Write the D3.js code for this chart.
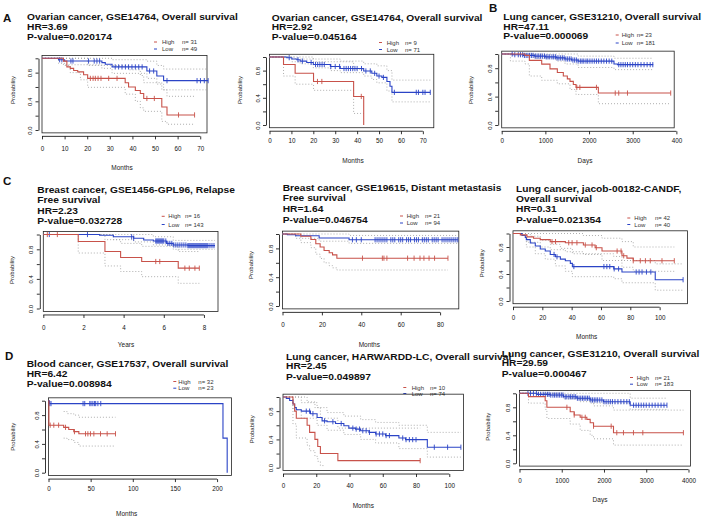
<!DOCTYPE html>
<html>
<head>
<meta charset="utf-8">
<script src="https://cdn.jsdelivr.net/npm/d3@7"></script>
<style>
  body { margin: 0; background: #fff; }
  svg { display: block; }
</style>
</head>
<body>
<svg id="fig" width="714" height="518"></svg>
<script>
const RED = "#c8524a", BLUE = "#2b44c6", CI = "#9a9a9a"
const FONT = "'Liberation Sans', Arial, sans-serif"

// ---- A1: Ovarian cancer GSE14764 ----
const a1Title = ["Ovarian cancer, GSE14764, Overall survival"]
const a1High = [[0,1],[9.5,0.96],[11,0.88],[12.5,0.86],[14,0.83],[15.8,0.81],[18.4,0.77],[20.2,0.72],[36.8,0.66],[38.3,0.6],[41.3,0.55],[43.5,0.51],[45,0.44],[53,0.32],[55.3,0.21],[67.5,0.21]]
const a1HighCens = [21.4,22.6,23.6,24.8,26.1,29.5,33.2,46.4,49.7,60.4,67.5]
const a1Low = [[0,1],[7.3,0.98],[10,0.962],[26.5,0.94],[28,0.916],[31,0.88],[46.4,0.823],[50.8,0.753],[53.8,0.688],[73.5,0.688]]
const a1LowCens = [7.8,8.8,12.8,13.7,20.6,23.1,24.3,25.5,32.4,33.9,35.4,36.9,38.3,39.8,41.3,42.8,44.3,47.6,49.4,55.3,68.6,70.1,71.8,73.5]
const a1HighLo = [[0,1],[9.5,0.9],[12.5,0.8],[17,0.7],[20.2,0.595],[36.8,0.5],[41.3,0.4],[43.5,0.31],[45,0.26],[53,0.12],[55.3,0.08],[67.5,0.08]]
const a1HighHi = [[0,1],[20.2,0.9],[38.3,0.84],[43.5,0.76],[45,0.66],[53,0.56],[55.3,0.47],[67.5,0.47]]
const a1LowLo = [[0,1],[7.3,0.93],[10,0.91],[26.5,0.86],[31,0.79],[46.4,0.72],[50.8,0.64],[53.8,0.56],[73.5,0.56]]
const a1LowHi = [[0,1],[31,0.98],[46.4,0.96],[50.8,0.9],[53.8,0.85],[73.5,0.85]]

// ---- A2: Ovarian cancer GSE14764 ----
const a2Title = ["Ovarian cancer, GSE14764, Overall survival"]
const a2High = [[0,1],[6.4,0.89],[11.7,0.76],[20.1,0.64],[38.4,0.42],[43,0]]
const a2HighCens = [21.9,23.9,41.9]
const a2Low = [[0,1],[7.9,0.99],[10.2,0.97],[12.5,0.96],[14,0.94],[17,0.92],[20,0.89],[27.8,0.86],[32.3,0.83],[43,0.795],[46.7,0.76],[49,0.72],[51.3,0.7],[53.6,0.64],[55,0.57],[55.9,0.48],[73.4,0.48]]
const a2LowCens = [9,13,15,19,21,22,23,24,25,28,30,32,34,35,36,37,38,39,40,42,44,46,48,50,52,57,67,68,70,71,73.4]
const a2HighLo = [[0,1],[6.4,0.72],[11.7,0.6],[20.1,0.51],[38.4,0.17],[43,0.17]]
const a2HighHi = [[0,1],[11.7,0.97],[20.1,0.93],[38.4,0.82],[43,0.82]]
const a2LowLo = [[0,1],[10.2,0.93],[14,0.9],[20,0.84],[27.8,0.8],[32.3,0.77],[43,0.72],[46.7,0.67],[49,0.62],[53.6,0.5],[55.9,0.34],[73.4,0.34]]
const a2LowHi = [[0,1],[20,0.97],[32.3,0.94],[43,0.9],[49,0.87],[53.6,0.8],[55.9,0.66],[73.4,0.66]]

// ---- B: Lung cancer GSE31210 ----
const bTitle = ["Lung cancer, GSE31210, Overall survival"]
const bHigh = [[0,1],[534,0.98],[633,0.91],[916,0.857],[1106,0.79],[1274,0.74],[1411,0.69],[1503,0.65],[1564,0.615],[1640,0.57],[1701,0.53],[2213,0.45],[3870,0.45]]
const bHighCens = [1720,1790,2170,2600,2680,2880,3870]
const bLow = [[0,1],[250,0.99],[500,0.98],[750,0.97],[1000,0.96],[1250,0.945],[1450,0.93],[1600,0.915],[1750,0.9],[2571,0.86],[2650,0.85],[3470,0.85]]
const bLowCens = [240,300,380,430,480,520,560,600,640,680,720,770,810,850,890,930,980,1020,1060,1100,1150,1190,1230,1270,1310,1350,1390,1430,1470,1510,1550,1590,1630,1670,1710,1750,1800,1840,1880,1930,1970,2020,2070,2120,2170,2220,2280,2340,2400,2460,2520,2680,2730,2780,2830,2880,2940,3000,3060,3120,3190,3260,3330,3400,3460]
const bHighLo = [[0,1],[200,0.9],[534,0.86],[633,0.69],[916,0.63],[1274,0.58],[1564,0.5],[1701,0.43],[2213,0.3],[3870,0.3]]
const bLowLo = [[0,1],[750,0.94],[1250,0.9],[1450,0.86],[1750,0.81],[2571,0.78],[3470,0.78]]
const bLowHi = [[0,1],[1750,0.97],[2571,0.94],[3470,0.94]]

// ---- C1: Breast cancer GSE1456-GPL96 ----
const c1Title = ["Breast cancer, GSE1456-GPL96, Relapse", "Free survival"]
const c1High = [[0,1],[1.74,0.905],[3.07,0.77],[3.85,0.69],[4.9,0.635],[6.72,0.545],[7.77,0.545]]
const c1HighCens = [0.2,0.7,5.6,5.8,7.05,7.27,7.55,7.77]
const c1Low = [[0,1],[2.8,0.99],[3.49,0.97],[4.5,0.95],[5.0,0.926],[5.48,0.912],[6.14,0.88],[6.47,0.858],[7.2,0.85],[8.55,0.85]]
const c1LowCens = [0.3,2.2,4.4,4.5,5.6,5.65,5.7,5.75,5.8,5.85,5.9,5.95,6.0,6.1,6.2,6.3,6.4,6.5,6.6,6.7,6.8,6.9,7.0,7.1,7.2,7.25,7.3,7.35,7.4,7.45,7.5,7.55,7.6,7.65,7.7,7.75,7.8,7.85,7.9,7.95,8.0,8.05,8.1,8.15,8.2,8.3,8.4,8.5]
const c1HighLo = [[0,1],[1.74,0.75],[3.07,0.575],[3.85,0.5],[4.9,0.43],[6.72,0.34],[7.77,0.34]]
const c1HighHi = [[0,1],[3.07,0.93],[3.85,0.88],[4.9,0.84],[6.72,0.77],[7.77,0.77]]
const c1LowLo = [[0,1],[3.49,0.93],[4.5,0.9],[5.48,0.86],[6.47,0.8],[8.55,0.8]]
const c1LowHi = [[0,1],[5.48,0.97],[6.47,0.92],[8.55,0.92]]

// ---- C2: Breast cancer GSE19615 ----
const c2Title = ["Breast cancer, GSE19615, Distant metastasis", "Free survival"]
const c2High = [[0,1],[9.3,0.969],[14.4,0.923],[16.9,0.864],[19.1,0.82],[21.1,0.77],[23.7,0.74],[25.4,0.71],[27.6,0.664],[84,0.664]]
const c2HighCens = [40.6,50.7,51.5,53,63.5,66.8,69.8,71.8,74.4,77.2,84]
const c2Low = [[0,1],[2.5,0.99],[6.7,0.975],[18.6,0.945],[33.8,0.92],[89,0.92]]
const c2LowCens = [35.5,37.5,40,47,48,49,50,51,52,53,55,56,57,59,60,61,63,64,65,67,68,69,71,72,73,74,76,77,78,79,81,82,83,84,85,86,87,88,89]
const c2HighLo = [[0,1],[9.3,0.88],[14.4,0.81],[16.9,0.72],[19.1,0.66],[21.1,0.6],[23.7,0.56],[25.4,0.53],[27.6,0.5],[84,0.5]]
const c2LowLo = [[0,1],[6.7,0.94],[18.6,0.9],[33.8,0.87],[89,0.87]]
const c2LowHi = [[0,1],[33.8,0.98],[89,0.98]]

// ---- C3: Lung cancer jacob-00182-CANDF ----
const c3Title = ["Lung cancer, jacob-00182-CANDF,", "Overall survival"]
const c3High = [[0,1],[5,0.98],[9.5,0.95],[14,0.93],[18.6,0.91],[25.4,0.88],[35.7,0.863],[48,0.83],[56,0.79],[60.7,0.74],[74.3,0.67],[77.7,0.635],[82,0.596],[110,0.596]]
const c3HighCens = [26.6,29,38,40.3,43.6,49.3,53.9,56.8,71,73.7,75.5,82,86.8,90.3,93.6,101.6,110]
const c3Low = [[0,1],[6.1,0.97],[8.4,0.94],[9.1,0.91],[11.8,0.86],[15.2,0.815],[18.6,0.77],[22,0.74],[25.4,0.69],[28.9,0.655],[32.3,0.62],[35.7,0.596],[39.1,0.557],[40.5,0.51],[68.7,0.476],[74.3,0.43],[97,0.315],[116,0.315]]
const c3LowCens = [28,30,41.5,62,64,66,69,72,84,86,88,91,94,116]
const c3HighLo = [[0,1],[9.5,0.87],[18.6,0.8],[25.4,0.76],[35.7,0.73],[48,0.69],[60.7,0.6],[74.3,0.5],[82,0.44],[110,0.44]]
const c3HighHi = [[0,1],[48,0.97],[60.7,0.93],[74.3,0.88],[82,0.8],[110,0.8]]
const c3LowLo = [[0,1],[9.1,0.8],[15.2,0.7],[22,0.62],[28.9,0.52],[35.7,0.44],[40.5,0.36],[68.7,0.33],[74.3,0.27],[97,0.16],[116,0.16]]
const c3LowHi = [[0,1],[11.8,0.96],[18.6,0.9],[25.4,0.84],[32.3,0.78],[40.5,0.7],[68.7,0.66],[74.3,0.6],[97,0.55],[116,0.55]]

// ---- D1: Blood cancer GSE17537 ----
const d1Title = ["Blood cancer, GSE17537, Overall survival"]
const d1High = [[0,1],[0.5,0.66],[18,0.63],[24,0.6],[30,0.57],[36,0.54],[79.5,0.54]]
const d1HighCens = [2,6.3,12,20.2,30.8,43.9,46.7,49.8,53.8,61.7,69.6,79.5]
const d1Low = [[0,1],[1,0.96],[207,0.48],[212,0]]
const d1LowCens = [1.5,3,41,43,49,50.5,52.6,54.5,56,58.6,62]
const d1HighLo = [[18,0.48],[22,0.46],[30,0.42],[36,0.37],[79.5,0.37]]
const d1HighHi = [[18,0.85],[22,0.82],[30,0.8],[36,0.77],[79.5,0.77]]

// ---- D2: Lung cancer HARWARDD-LC ----
const d2Title = ["Lung cancer, HARWARDD-LC, Overall survival"]
const d2High = [[0,1],[6,0.9],[7,0.8],[8,0.7],[14.5,0.6],[16,0.5],[19.2,0.4],[20.9,0.3],[22.5,0.2],[33,0.1],[82.5,0.1]]
const d2HighCens = [82.5]
const d2Low = [[0,1],[2,0.98],[4,0.95],[6,0.9],[7,0.85],[8,0.82],[11,0.8],[16.5,0.764],[20.5,0.71],[23.5,0.663],[26.5,0.65],[31.6,0.625],[36.6,0.594],[39.6,0.56],[43.6,0.546],[46.7,0.523],[51.7,0.5],[55.7,0.477],[61.7,0.454],[69.7,0.42],[73.7,0.397],[86.8,0.29],[107,0.29]]
const d2LowCens = [14,16,18,25,30,35,42,44,46,48,50,52,56,58,60,62,64,72,74,76,78,80,91,99,107]
const d2HighLo = [[0,1],[6,0.62],[8,0.42],[14.5,0.32],[16,0.24],[19.2,0.16],[20.9,0.09],[22.5,0.03],[25,0.03]]
const d2HighHi = [[0,1],[14.5,0.93],[19.2,0.85],[22.5,0.7],[33,0.56],[82.5,0.56]]
const d2LowLo = [[0,1],[6,0.82],[11,0.7],[20.5,0.6],[26.5,0.53],[36.6,0.47],[46.7,0.4],[55.7,0.35],[69.7,0.27],[86.8,0.15],[107,0.15]]
const d2LowHi = [[0,1],[11,0.92],[20.5,0.85],[26.5,0.78],[36.6,0.73],[46.7,0.68],[55.7,0.64],[69.7,0.6],[86.8,0.5],[107,0.5]]

// ---- D3: Lung cancer GSE31210 ----
const d3Title = ["Lung cancer, GSE31210, Overall survival"]
const d3High = [[0,1],[213,0.952],[608,0.894],[648,0.8],[1200,0.737],[1295,0.69],[1436,0.657],[1594,0.628],[1673,0.58],[1752,0.53],[2225,0.437],[3880,0.437]]
const d3HighCens = [1122,1295,1477,1556,1752,2170,2303,2461,2698,2919,3880]
const d3Low = [[0,1],[410,0.985],[725,0.975],[1041,0.95],[1357,0.93],[1673,0.905],[1988,0.88],[2620,0.83],[3490,0.83]]
const d3LowCens = [200,260,330,400,450,500,560,610,660,700,740,790,830,870,910,950,990,1030,1080,1120,1170,1210,1250,1290,1330,1370,1410,1450,1490,1530,1570,1610,1650,1690,1730,1770,1810,1850,1900,1950,2000,2050,2100,2150,2200,2260,2330,2400,2470,2540,2600,2700,2760,2820,2880,2940,3000,3070,3140,3210,3280,3350,3420,3490]
const d3HighLo = [[0,1],[213,0.86],[608,0.77],[648,0.64],[1200,0.56],[1436,0.47],[1673,0.4],[1752,0.35],[2225,0.26],[3880,0.26]]
const d3HighHi = [[0,1],[648,0.97],[1200,0.93],[1436,0.88],[1752,0.82],[2225,0.76],[3880,0.76]]
const d3LowLo = [[0,1],[1041,0.92],[1673,0.86],[2620,0.77],[3490,0.77]]
const d3LowHi = [[0,1],[2620,0.93],[3490,0.93]]

// tick values / labels
const monthTicks70 = [0,10,20,30,40,50,60,70]
const dayTicks = [0,1000,2000,3000,4000]
const yearTicks = [0,2,4,6,8]
const monthTicks80 = [0,20,40,60,80]
const monthTicks100 = [0,20,40,60,80,100]
const monthTicks200 = [0,50,100,150,200]
const bTickLabels = ["0","1000","2000","3000","400"]

// panel table (layout + data references)
const panels = [
  { title:a1Title, hr:"HR=3.69", p:"P-value=0.020174", nHigh:31, nLow:49, tx:27, lines:[20.3,29.8,39.6],
    xMax:73, xr:[42,207], yr:[130,58.3], xTicks:monthTicks70, labOff:14.3, xLabel:"Months", xl:[122,169.5], yl:[14.7,90],
    leg:[154,162,182,44,51], high:a1High, low:a1Low, hc:a1HighCens, lc:a1LowCens, ci:[a1HighLo,a1HighHi,a1LowLo,a1LowHi] },
  { title:a2Title, hr:"HR=2.92", p:"P-value=0.045164", nHigh:9, nLow:71, tx:271.7, lines:[20.5,29.5,39.5],
    xMax:75, xr:[269.5,433.8], yr:[125,57], xTicks:monthTicks70, labOff:11.5, xLabel:"Months", xl:[353,162.5], yl:[242,90],
    leg:[379,386.7,405,44.5,51.5], high:a2High, low:a2Low, hc:a2HighCens, lc:a2LowCens, ci:[a2HighLo,a2HighHi,a2LowLo,a2LowHi] },
  { title:bTitle, hr:"HR=47.11", p:"P-value=0.000069", nHigh:23, nLow:181, tx:503.3, lines:[20.2,29.6,39.4],
    xMax:3950, xr:[501.7,674.2], yr:[125,54], xTicks:dayTicks, xTickLabels:bTickLabels, labOff:12, xLabel:"Days", xl:[585,163.3], yl:[473,90],
    leg:[615.7,621.7,636.7,37,45], high:bHigh, low:bLow, hc:bHighCens, lc:bLowCens, ci:[bHighLo,null,bLowLo,bLowHi] },
  { title:c1Title, hr:"HR=2.23", p:"P-value=0.032728", nHigh:16, nLow:143, tx:37.3, lines:[192.7,203.3,213.5,224.2],
    xMax:8.7, xr:[43.3,218], yr:[308.5,234.5], xTicks:yearTicks, labOff:15.5, xLabel:"Years", xl:[126,347], yl:[14.3,270],
    leg:[161.7,168.3,185,218.3,226.5], high:c1High, low:c1Low, hc:c1HighCens, lc:c1LowCens, ci:[c1HighLo,c1HighHi,c1LowLo,c1LowHi] },
  { title:c2Title, hr:"HR=1.64", p:"P-value=0.046754", nHigh:21, nLow:94, tx:282.7, lines:[191,201.3,211.7,222.7],
    xMax:89.5, xr:[282.5,458.8], yr:[306,234], xTicks:monthTicks80, labOff:14.3, xLabel:"Months", xl:[369.3,346.5], yl:[252.7,265],
    leg:[400,406.7,425,218,225], high:c2High, low:c2Low, hc:c2HighCens, lc:c2LowCens, ci:[c2HighLo,null,c2LowLo,c2LowHi] },
  { title:c3Title, hr:"HR=0.31", p:"P-value=0.021354", nHigh:42, nLow:40, tx:516, lines:[191.7,201.7,211.7,223.3],
    xMax:119, xr:[513,687.5], yr:[301,233.5], xTicks:monthTicks100, labOff:12.8, xLabel:"Months", xl:[586.7,339], yl:[483.7,263.3],
    leg:[627.3,634.3,655,220,226.5], high:c3High, low:c3Low, hc:c3HighCens, lc:c3LowCens, ci:[c3HighLo,c3HighHi,c3LowLo,c3LowHi] },
  { title:d1Title, hr:"HR=6.42", p:"P-value=0.008984", nHigh:32, nLow:23, tx:26.7, lines:[367.3,377.3,386.7],
    xMax:217, xr:[48.5,231.4], yr:[472.7,400.7], xTicks:monthTicks200, labOff:11.6, xLabel:"Months", xl:[126.7,515.5], yl:[15.3,436.7],
    leg:[173.3,178.3,198.3,383.5,390.2], high:d1High, low:d1Low, hc:d1HighCens, lc:d1LowCens, ci:[d1HighLo,d1HighHi,null,null] },
  { title:d2Title, hr:"HR=2.45", p:"P-value=0.049897", nHigh:10, nLow:74, tx:286, lines:[360,369.3,380],
    xMax:108.5, xr:[283,463.4], yr:[467.7,397], xTicks:monthTicks100, labOff:14.3, xLabel:"Months", xl:[363.3,507.5], yl:[253.7,429.3],
    leg:[403.3,411.7,430,389.5,395.5], high:d2High, low:d2Low, hc:d2HighCens, lc:d2LowCens, ci:[d2HighLo,d2HighHi,d2LowLo,d2LowHi] },
  { title:d3Title, hr:"HR=29.59", p:"P-value=0.000467", nHigh:21, nLow:183, tx:501.7, lines:[356.7,366,376.7],
    xMax:4050, xr:[519.5,690.6], yr:[463.3,393.3], xTicks:dayTicks, labOff:13.1, xLabel:"Days", xl:[600,502.3], yl:[490.3,426.7],
    leg:[630,636.7,655,379.5,386.2], high:d3High, low:d3Low, hc:d3HighCens, lc:d3LowCens, ci:[d3HighLo,d3HighHi,d3LowLo,d3LowHi] }
]

const letters = [["A",3,21.5],["B",489,11.5],["C",3,185],["D",5,360]]

const svg = d3.select("#fig")
svg.append("rect").attr("width",714).attr("height",518).attr("fill","#fff")

function survAt(steps, t) {
  let s = steps[0][1]
  for (const [ti, si] of steps) if (ti <= t) s = si
  return s
}

panels.forEach(p => {
  const g = svg.append("g")
  const x = d3.scaleLinear().domain([0, p.xMax]).range(p.xr)
  const y = d3.scaleLinear().domain([0, 1]).range(p.yr)
  const step = d3.line().x(d => x(d[0])).y(d => y(d[1])).curve(d3.curveStepAfter)

  // titles: slightly wide bold face, as in the figure
  const txt = [...p.title, p.hr, p.p]
  txt.forEach((t, i) => {
    g.append("text").attr("transform", `translate(${p.tx},${p.lines[i]}) scale(1.1,1)`).text(t)
      .attr("font-family", FONT).attr("font-weight", "bold").attr("font-size", 9.3).attr("fill", "#111")
  })

  // legend
  ;[["High", p.nHigh, RED, p.leg[3]], ["Low", p.nLow, BLUE, p.leg[4]]].forEach(([lab, n, col, by]) => {
    g.append("line").attr("x1", p.leg[0]).attr("x2", p.leg[0] + 3).attr("y1", by - 2).attr("y2", by - 2)
      .attr("stroke", col).attr("stroke-width", 1)
    g.append("text").attr("x", p.leg[1]).attr("y", by).text(lab)
      .attr("font-family", FONT).attr("font-size", 6).attr("fill", "#333")
    g.append("text").attr("x", p.leg[2]).attr("y", by).text("n= " + n)
      .attr("font-family", FONT).attr("font-size", 6).attr("fill", "#333")
  })

  // box
  g.append("rect").attr("x", x(0)).attr("y", y(1.04))
    .attr("width", x(p.xMax) - x(0)).attr("height", y(-0.04) - y(1.04))
    .attr("fill", "none").attr("stroke", "#222").attr("stroke-width", 0.8)

  // x axis
  const labels = p.xTickLabels || p.xTicks.map(String)
  const xa = g.append("g").attr("transform", `translate(0,${y(-0.04) + 3.5})`)
    .call(d3.axisBottom(x).tickValues(p.xTicks).tickFormat((d, i) => labels[i]).tickSize(3).tickSizeOuter(0))
  xa.attr("font-family", FONT).attr("font-size", 6.3)
  xa.select(".domain").remove()
  xa.append("line").attr("x1", x(p.xTicks[0])).attr("x2", x(p.xTicks[p.xTicks.length - 1]))
    .attr("stroke", "#000").attr("stroke-width", 0.8)
  xa.selectAll(".tick line").attr("stroke-width", 0.8)
  xa.selectAll("text").attr("dy", null).attr("y", p.labOff).attr("fill", "#111")

  // y axis
  const ya = g.append("g").attr("transform", `translate(${x(0) - 3.5},0)`)
    .call(d3.axisLeft(y).tickValues([0, 0.2, 0.4, 0.6, 0.8, 1])
      .tickFormat(d => Math.round(d * 10) % 4 === 0 ? d3.format(".1f")(d) : "")
      .tickSize(3).tickSizeOuter(0))
  ya.attr("font-family", FONT).attr("font-size", 6)
  ya.select(".domain").attr("stroke-width", 0.8)
  ya.selectAll(".tick line").attr("stroke-width", 0.8)
  ya.selectAll("text").attr("x", null).attr("dy", null)
    .attr("transform", "translate(-6.5,0) rotate(-90)").attr("text-anchor", "middle").attr("fill", "#111")

  // axis titles
  g.append("text").attr("x", p.xl[0]).attr("y", p.xl[1]).attr("text-anchor", "middle").text(p.xLabel)
    .attr("font-family", FONT).attr("font-size", 6.5).attr("fill", "#222")
  g.append("text").attr("transform", `translate(${p.yl[0]},${p.yl[1]}) rotate(-90)`)
    .attr("text-anchor", "middle").text("Probability")
    .attr("font-family", FONT).attr("font-size", 6).attr("fill", "#222")

  // confidence bands (dotted)
  p.ci.forEach(c => {
    if (!c) return
    g.append("path").attr("d", step(c)).attr("fill", "none")
      .attr("stroke", CI).attr("stroke-width", 0.8).attr("stroke-dasharray", "1,2")
  })

  // survival curves with censor marks
  ;[[p.low, p.lc, BLUE], [p.high, p.hc, RED]].forEach(([steps, cens, col]) => {
    g.append("path").attr("d", step(steps)).attr("fill", "none")
      .attr("stroke", col).attr("stroke-width", 1.1)
    g.selectAll(null).data(cens).enter().append("line")
      .attr("x1", d => x(d)).attr("x2", d => x(d))
      .attr("y1", d => y(survAt(steps, d)) - 2.6).attr("y2", d => y(survAt(steps, d)) + 2.6)
      .attr("stroke", col).attr("stroke-width", 0.9)
  })
})

letters.forEach(([l, lx, ly]) => {
  svg.append("text").attr("x", lx).attr("y", ly).text(l)
    .attr("font-family", FONT).attr("font-weight", "bold").attr("font-size", 11.5).attr("fill", "#111")
})
</script>
</body>
</html>
